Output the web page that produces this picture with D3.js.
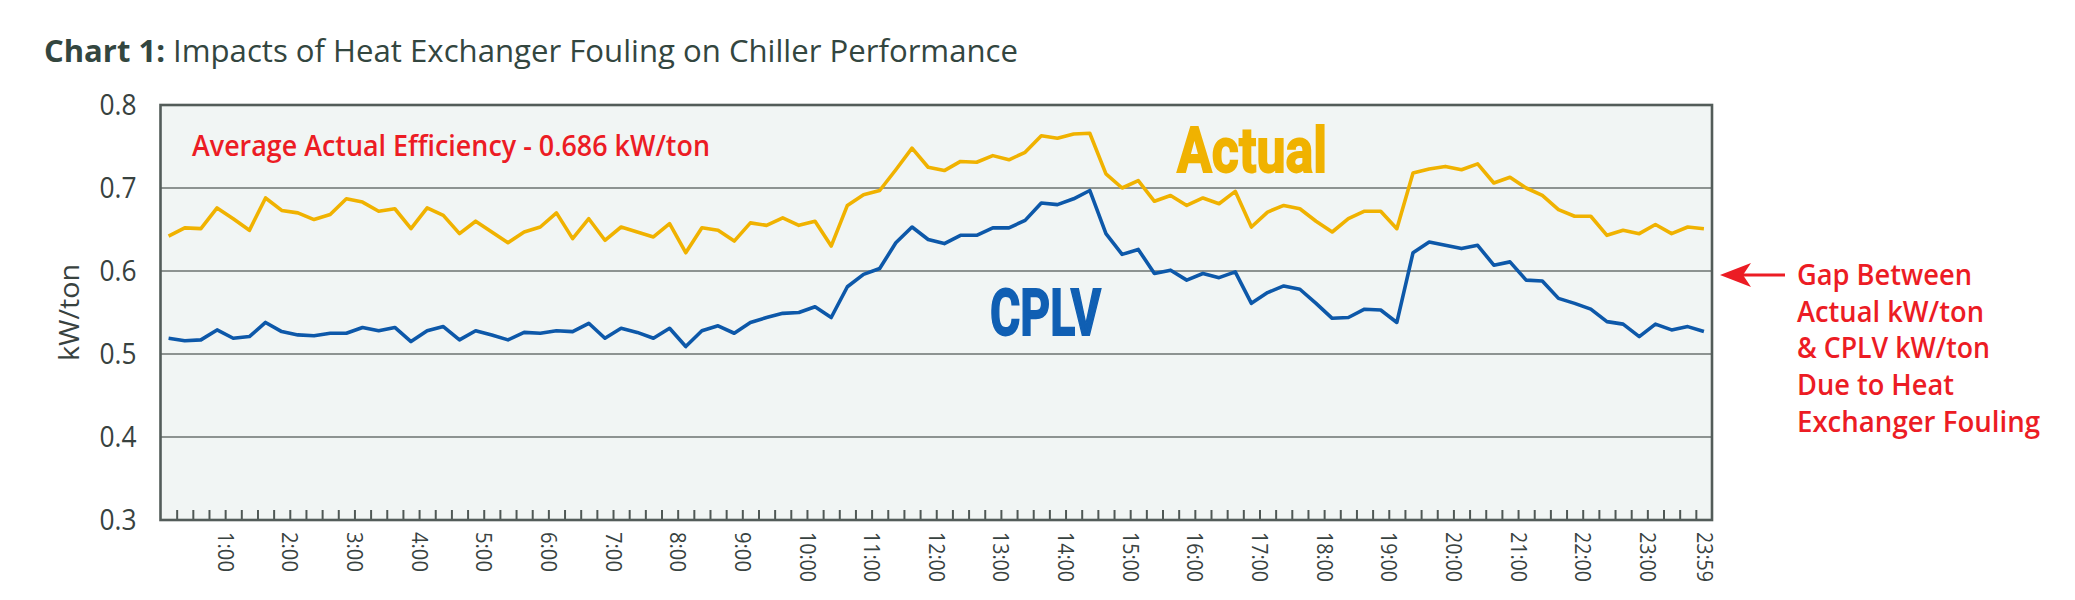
<!DOCTYPE html>
<html>
<head>
<meta charset="utf-8">
<script src="https://cdn.jsdelivr.net/npm/d3@7"></script>
<style>
  body { margin: 0; background: #fff; }
  svg { display: block; }
  text { font-family: "Open Sans", "Noto Sans", sans-serif; }
</style>
</head>
<body>
<div id="chart"></div>
<script>
// 15-minute readings over one day (96 values each)
const actual = [
  0.642, 0.652, 0.651, 0.676, 0.663, 0.649, 0.688, 0.673, 0.670, 0.662, 0.668, 0.687,
  0.683, 0.672, 0.675, 0.651, 0.676, 0.667, 0.645, 0.660, 0.647, 0.634, 0.647, 0.653,
  0.670, 0.639, 0.663, 0.637, 0.653, 0.647, 0.641, 0.657, 0.622, 0.652, 0.649, 0.636,
  0.658, 0.655, 0.664, 0.655, 0.660, 0.630, 0.679, 0.692, 0.697, 0.722, 0.748, 0.725,
  0.721, 0.732, 0.731, 0.739, 0.734, 0.743, 0.763, 0.760, 0.765, 0.766, 0.717, 0.700,
  0.709, 0.684, 0.691, 0.679, 0.688, 0.681, 0.696, 0.653, 0.671, 0.679, 0.675, 0.660,
  0.647, 0.663, 0.672, 0.672, 0.651, 0.718, 0.723, 0.726, 0.722, 0.729, 0.706, 0.713,
  0.700, 0.691, 0.674, 0.666, 0.666, 0.643, 0.649, 0.645, 0.656, 0.645, 0.653, 0.651
];
const cplv = [
  0.519, 0.516, 0.517, 0.529, 0.519, 0.521, 0.538, 0.527, 0.523, 0.522, 0.525, 0.525,
  0.532, 0.528, 0.532, 0.515, 0.528, 0.533, 0.517, 0.528, 0.523, 0.517, 0.526, 0.525,
  0.528, 0.527, 0.537, 0.519, 0.531, 0.526, 0.519, 0.531, 0.509, 0.528, 0.534, 0.525,
  0.538, 0.544, 0.549, 0.550, 0.557, 0.544, 0.581, 0.596, 0.603, 0.634, 0.653, 0.638,
  0.633, 0.643, 0.643, 0.652, 0.652, 0.661, 0.682, 0.680, 0.687, 0.697, 0.645, 0.620,
  0.626, 0.597, 0.601, 0.589, 0.597, 0.592, 0.599, 0.561, 0.574, 0.582, 0.578, 0.561,
  0.543, 0.544, 0.554, 0.553, 0.538, 0.622, 0.635, 0.631, 0.627, 0.631, 0.607, 0.611,
  0.589, 0.588, 0.567, 0.561, 0.554, 0.539, 0.536, 0.521, 0.536, 0.529, 0.533, 0.527
];
const hourLabels = [
  "1:00", "2:00", "3:00", "4:00", "5:00", "6:00", "7:00", "8:00", "9:00", "10:00",
  "11:00", "12:00", "13:00", "14:00", "15:00", "16:00", "17:00", "18:00", "19:00",
  "20:00", "21:00", "22:00", "23:00", "23:59"
];
const yTicks = [0.3, 0.4, 0.5, 0.6, 0.7, 0.8];
const gapNote = [
  "Gap Between",
  "Actual kW/ton",
  "& CPLV kW/ton",
  "Due to Heat",
  "Exchanger Fouling"
];

const width = 2075, height = 600;
const margin = { top: 105, right: 363, bottom: 80, left: 160.5 };

const svg = d3.select("#chart").append("svg")
  .attr("width", width)
  .attr("height", height);

// x in quarter-hours, each reading sits in the middle of its slot
const x = d3.scaleLinear().domain([0, 96]).range([margin.left, width - margin.right]);
const y = d3.scaleLinear().domain([0.3, 0.8]).range([height - margin.bottom, margin.top]);

const textColor = "#38423f";
const red = "#ec1c24";
const gold = "#f0b200";
const blue = "#0d58a9";

// plot background
svg.append("rect")
  .attr("x", x(0)).attr("y", y(0.8))
  .attr("width", x(96) - x(0)).attr("height", y(0.3) - y(0.8))
  .attr("fill", "#f1f5f4");

// gridlines
svg.append("g")
  .selectAll("line")
  .data(yTicks.filter(d => d > 0.3 && d < 0.8))
  .join("line")
  .attr("x1", x(0)).attr("x2", x(96))
  .attr("y1", d => y(d)).attr("y2", d => y(d))
  .attr("stroke", "#8d9391")
  .attr("stroke-width", 2.2);

// small quarter-hour ticks pointing up from the bottom
const tickAxis = d3.axisBottom(x)
  .tickValues(d3.range(1, 96))
  .tickSizeInner(-10)
  .tickSizeOuter(0)
  .tickFormat("");
svg.append("g")
  .attr("transform", `translate(0,${y(0.3)})`)
  .call(tickAxis)
  .call(g => g.select(".domain").remove())
  .call(g => g.selectAll(".tick line").attr("stroke", "#4f5855").attr("stroke-width", 2));

// hour labels, rotated
const hourAxis = d3.axisBottom(x)
  .tickValues(d3.range(4, 97, 4))
  .tickSize(0)
  .tickFormat((d, i) => hourLabels[i]);
svg.append("g")
  .attr("transform", `translate(0,${y(0.3)})`)
  .call(hourAxis)
  .call(g => g.select(".domain").remove())
  .call(g => g.selectAll(".tick text")
    .attr("transform", "rotate(90)")
    .attr("x", 12)
    .attr("y", d => d === 96 ? 8 : 0)
    .attr("dy", "0.36em")
    .attr("text-anchor", "start")
    .attr("textLength", (d, i) => hourLabels[i].length * 10)
    .attr("lengthAdjust", "spacingAndGlyphs")
    .attr("fill", textColor)
    .style("font-size", "22px")
    .style("font-family", "'Open Sans', sans-serif"));

// y axis labels
const yAxis = d3.axisLeft(y)
  .tickValues(yTicks)
  .tickSize(0)
  .tickPadding(24)
  .tickFormat(d3.format(".1f"));
svg.append("g")
  .attr("transform", `translate(${x(0)},0)`)
  .call(yAxis)
  .call(g => g.select(".domain").remove())
  .call(g => g.selectAll(".tick text")
    .attr("fill", textColor)
    .attr("textLength", 37)
    .attr("lengthAdjust", "spacingAndGlyphs")
    .style("font-size", "29px")
    .style("font-family", "'Open Sans', sans-serif"));

svg.append("text")
  .attr("transform", `translate(79,${(y(0.3) + y(0.8)) / 2}) rotate(-90)`)
  .attr("text-anchor", "middle")
  .attr("fill", textColor)
  .attr("font-size", 28)
  .attr("textLength", 97)
  .attr("lengthAdjust", "spacingAndGlyphs")
  .text("kW/ton");

// lines
const line = d3.line()
  .x((d, i) => x(i + 0.5))
  .y(d => y(d));

svg.append("path")
  .datum(actual)
  .attr("d", line)
  .attr("fill", "none")
  .attr("stroke", gold)
  .attr("stroke-width", 3.6)
  .attr("stroke-linejoin", "round");

svg.append("path")
  .datum(cplv)
  .attr("d", line)
  .attr("fill", "none")
  .attr("stroke", blue)
  .attr("stroke-width", 3.6)
  .attr("stroke-linejoin", "round");

// plot frame
svg.append("rect")
  .attr("x", x(0)).attr("y", y(0.8))
  .attr("width", x(96) - x(0)).attr("height", y(0.3) - y(0.8))
  .attr("fill", "none")
  .attr("stroke", "#535c59")
  .attr("stroke-width", 2.6);

// series labels
svg.append("text")
  .attr("x", 1177).attr("y", 172)
  .attr("textLength", 150).attr("lengthAdjust", "spacingAndGlyphs")
  .style("font-family", "'Roboto', sans-serif")
  .attr("font-weight", "bold")
  .attr("font-size", 63)
  .attr("fill", gold).attr("stroke", gold).attr("stroke-width", 1.8)
  .text("Actual");

svg.append("text")
  .attr("x", 990).attr("y", 335)
  .attr("textLength", 111).attr("lengthAdjust", "spacingAndGlyphs")
  .style("font-family", "'Roboto', sans-serif")
  .attr("font-weight", "bold")
  .attr("font-size", 64)
  .attr("fill", "#105fb3").attr("stroke", "#105fb3").attr("stroke-width", 1.8)
  .text("CPLV");

svg.append("text")
  .attr("x", 192).attr("y", 156)
  .attr("textLength", 518).attr("lengthAdjust", "spacingAndGlyphs")
  .attr("font-size", 29)
  .attr("font-weight", 600)
  .attr("fill", red)
  .text("Average Actual Efficiency - 0.686 kW/ton");

// title
svg.append("text")
  .attr("x", 44).attr("y", 62)
  .attr("textLength", 121).attr("lengthAdjust", "spacingAndGlyphs")
  .attr("font-size", 31).attr("font-weight", "bold")
  .attr("fill", "#33463f")
  .text("Chart 1:");
svg.append("text")
  .attr("x", 173).attr("y", 62)
  .attr("textLength", 845).attr("lengthAdjust", "spacingAndGlyphs")
  .attr("font-size", 31)
  .attr("fill", "#33463f")
  .text("Impacts of Heat Exchanger Fouling on Chiller Performance");

// gap annotation with arrow
const arrowY = y(0.6) + 4;
svg.append("line")
  .attr("x1", 1742).attr("x2", 1785)
  .attr("y1", arrowY).attr("y2", arrowY)
  .attr("stroke", red).attr("stroke-width", 3);
svg.append("path")
  .attr("d", `M1720,${arrowY} L1751,${arrowY - 12} L1743,${arrowY} L1751,${arrowY + 12} Z`)
  .attr("fill", red);

const noteLengths = [175, 187, 193, 157, 243];
svg.append("g")
  .selectAll("text")
  .data(gapNote)
  .join("text")
  .attr("x", 1797)
  .attr("y", (d, i) => 285 + i * 36.7)
  .attr("textLength", (d, i) => noteLengths[i])
  .attr("lengthAdjust", "spacingAndGlyphs")
  .attr("font-size", 28)
  .attr("font-weight", 600)
  .attr("fill", red)
  .text(d => d);
</script>
</body>
</html>
